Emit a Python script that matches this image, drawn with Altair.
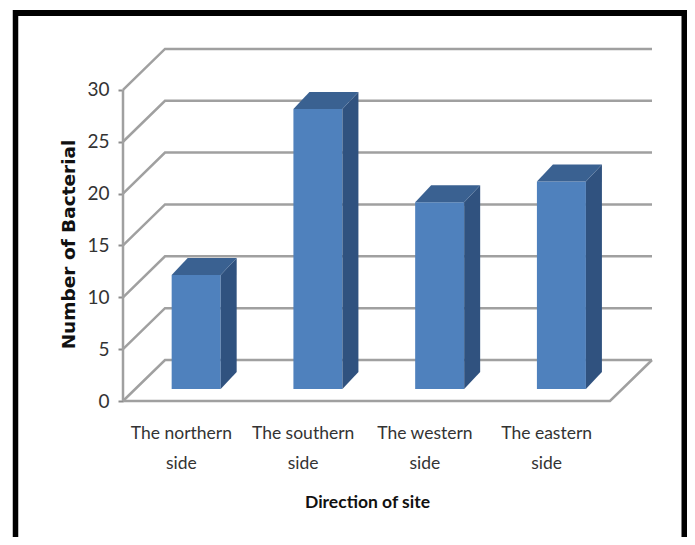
import altair as alt
import pandas as pd

categories = ["The northern side", "The southern side", "The western side", "The eastern side"]
values = [11, 27, 18, 20]
y_ticks = [0, 5, 10, 15, 20, 25, 30]

W, H = 679, 529
PX_X, PX_Y = 121.75, 10.37
x_dom = [-115 / PX_X, (W - 115) / PX_X]
y_dom = [-(H - 393) / PX_Y, 393 / PX_Y]
DX, DY = 42 / PX_X, 41 / PX_Y        # depth of the floor
BW = 49 / PX_X                       # bar width
D0 = 12 / 41                         # bar front in depth fraction
BAR_DX, BAR_DY = 16 / PX_X, 17 / PX_Y  # bar depth

xs = alt.Scale(domain=x_dom, nice=False, zero=False)
ys = alt.Scale(domain=y_dom, nice=False, zero=False)

X = alt.X("x:Q", scale=xs, axis=alt.Axis(
    orient="bottom", offset=-(H - 393), domain=False, ticks=False, labels=False, grid=False,
    title="Direction of site", titleFont="Lato", titleFontSize=17.5,
    titleFontWeight="bold", titleColor="#111111", titleX=359, titleY=92, titleAnchor="middle",
))
Y = alt.Y("y:Q", scale=ys, stack=False, axis=alt.Axis(
    orient="left", offset=-115, values=y_ticks, domain=False, grid=False, tickSize=5,
    tickColor="#8C8C8C", tickWidth=2, labelFont="Lato", labelFontSize=19,
    labelColor="#333333", labelPadding=9,
    title="Number of Bacterial", titleFont="DejaVu Sans", titleFontSize=18.5,
    titleFontWeight="bold", titleColor="#111111", titleX=-45, titleY=236,
))

# walls
wall = []
for v in y_ticks:
    for i, (x, y) in enumerate([(0, v), (DX, v + DY), (4 + DX, v + DY)]):
        wall.append({"k": f"g{v}", "o": i, "x": x, "y": y})
for i, (x, y) in enumerate([(0, 0), (0, 30)]):
    wall.append({"k": "axis", "o": i, "x": x, "y": y})
for i, (x, y) in enumerate([(0, 0), (4, 0), (4 + DX, DY)]):
    wall.append({"k": "floor", "o": i, "x": x, "y": y})
walls = alt.Chart(pd.DataFrame(wall)).mark_line(color="#A0A0A0", strokeWidth=2.5).encode(
    x=X, y=Y, detail="k:N", order="o:Q"
)

front, side, top = [], [], []
for i, (c, v) in enumerate(zip(categories, values)):
    x0 = i + 0.5 - BW / 2 + D0 * DX
    x1 = x0 + BW
    b0 = D0 * DY
    b1 = b0 + BAR_DY
    dx = BAR_DX
    front.append({"c": c, "x": x0, "x2": x1, "y": b0, "y2": b0 + v})
    side += [
        {"c": c, "x": x1, "y": b0 + v, "y2": b0},
        {"c": c, "x": x1 + dx, "y": b1 + v, "y2": b1},
    ]
    top += [
        {"c": c, "x": x0, "y": b0 + v, "y2": b0 + v},
        {"c": c, "x": x0 + dx, "y": b1 + v, "y2": b0 + v},
        {"c": c, "x": x1, "y": b1 + v, "y2": b0 + v},
        {"c": c, "x": x1 + dx, "y": b1 + v, "y2": b1 + v},
    ]

front_l = alt.Chart(pd.DataFrame(front)).mark_rect(color="#4F81BD").encode(
    x=X, x2="x2:Q", y=Y, y2="y2:Q"
)
side_l = alt.Chart(pd.DataFrame(side)).mark_area(color="#30527F", opacity=1, orient="vertical").encode(
    x=X, y=Y, y2="y2:Q", detail="c:N"
)
top_l = alt.Chart(pd.DataFrame(top)).mark_area(color="#3A6191", opacity=1, orient="vertical").encode(
    x=X, y=Y, y2="y2:Q", detail="c:N"
)

cat_df = pd.DataFrame({
    "x": [i + 0.5 for i in range(4)],
    "y": [-3.14] * 4,
    "t": [c.rsplit(" ", 1)[0] + "\n" + c.rsplit(" ", 1)[1] for c in categories],
})
cat_l = alt.Chart(cat_df).mark_text(
    font="Lato", fontSize=17.5, color="#333333", lineBreak="\n", lineHeight=30,
    align="center", baseline="middle", dx=-2.5
).encode(x=X, y=Y, text="t:N")

# picture frame
one = pd.DataFrame({"a": [0]})
frame = [
    alt.Chart(one).mark_rule(color="black", strokeWidth=5.5).encode(
        x=alt.value(7.5), y=alt.value(2), y2=alt.value(H)),
    alt.Chart(one).mark_rule(color="black", strokeWidth=5.5).encode(
        x=alt.value(W - 2.75), y=alt.value(2), y2=alt.value(H)),
    alt.Chart(one).mark_rule(color="black", strokeWidth=6).encode(
        x=alt.value(5), x2=alt.value(W), y=alt.value(5)),
]

chart = alt.layer(*frame, walls, front_l, side_l, top_l, cat_l).properties(
    width=W, height=H, padding=0, autosize=alt.AutoSizeParams(type="none"),
    background="white",
).configure_view(stroke=None)

chart.save("out.html", embed_options={"renderer": "svg", "actions": False})
